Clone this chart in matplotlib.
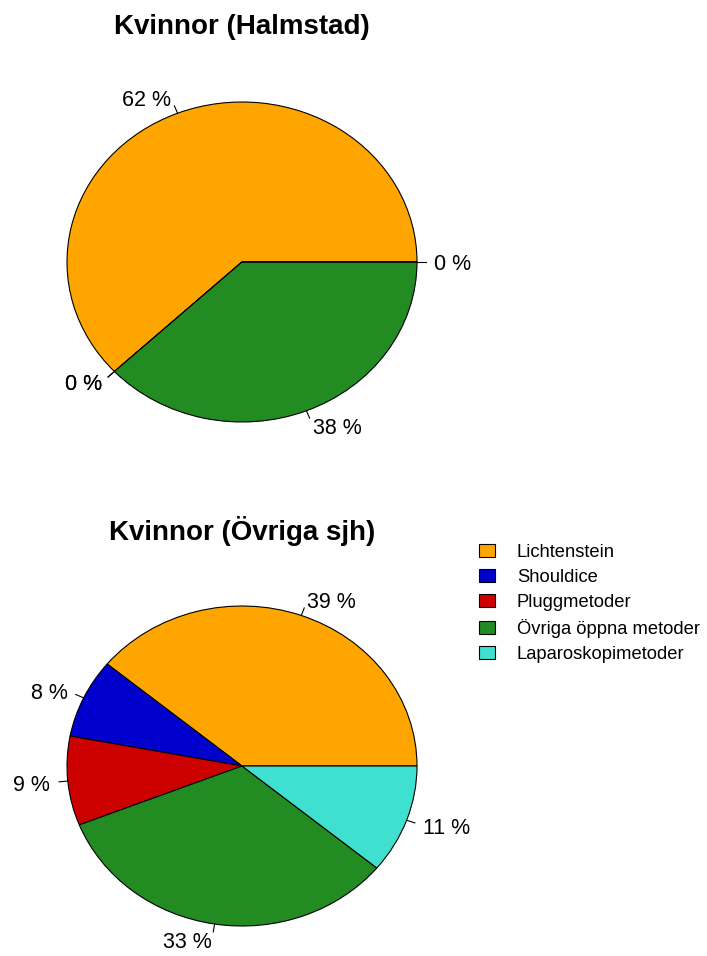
import numpy as np
import matplotlib
matplotlib.use("Agg")
import matplotlib.pyplot as plt
from matplotlib.patches import Patch

plt.rcParams['font.family'] = ['Liberation Sans', 'DejaVu Sans']

# data
methods = ["Lichtenstein", "Shouldice", "Pluggmetoder", "Övriga öppna metoder", "Laparoskopimetoder"]
colors = ["#FFA500", "#0000CD", "#CD0000", "#228B22", "#40E0D0"]
halmstad = [62, 0, 0, 38, 0]
ovriga = [39, 8, 9, 33, 11]
titles = ["Kvinnor (Halmstad)", "Kvinnor (Övriga sjh)"]

W, H = 707, 956
fig = plt.figure(figsize=(W / 100, H / 100), dpi=100)


def px_axes(x0, y0, x1, y1):
    return fig.add_axes([x0 / W, 1 - y1 / H, (x1 - x0) / W, (y1 - y0) / H])


def draw_pie(ax, values):
    labels = [f"{v} %" for v in values]
    wedges, texts = ax.pie(values, labels=labels, colors=colors, startangle=0,
                           counterclock=True, labeldistance=1.1, normalize=True,
                           wedgeprops=dict(edgecolor="black", linewidth=0.8),
                           textprops=dict(fontsize=15.5))
    for t in texts:
        t.set_va("center_baseline")
    # small tick lines like R's pie()
    frac = np.array(values, dtype=float) / sum(values)
    cum = np.concatenate([[0], np.cumsum(frac)])
    mid = (cum[:-1] + cum[1:]) / 2 * 2 * np.pi
    for a in mid:
        ax.plot([np.cos(a), 1.05 * np.cos(a)], [np.sin(a), 1.05 * np.sin(a)],
                color="black", lw=0.8, clip_on=False)
    ax.set_aspect("auto")
    ax.set_xlim(-1, 1)
    ax.set_ylim(-1, 1)
    ax.axis("off")


ax1 = px_axes(67, 102, 417, 422)
draw_pie(ax1, halmstad)
ax2 = px_axes(67, 606, 417, 926)
draw_pie(ax2, ovriga)

fig.text(241.5 / W, 1 - 34 / H, titles[0], ha="center", va="baseline",
         fontsize=20, fontweight="bold")
fig.text(242 / W, 1 - 540 / H, titles[1], ha="center", va="baseline",
         fontsize=20, fontweight="bold")

handles = [Patch(facecolor=c, edgecolor="black", linewidth=0.8) for c in colors]
fig.legend(handles, methods, loc="upper left", bbox_to_anchor=(479 / W, 1 - 544 / H),
           frameon=False, fontsize=13.2, borderpad=0, borderaxespad=0,
           handlelength=0.87, handleheight=0.71, handletextpad=1.2, labelspacing=0.44)

fig.savefig("out.png", dpi=100)
